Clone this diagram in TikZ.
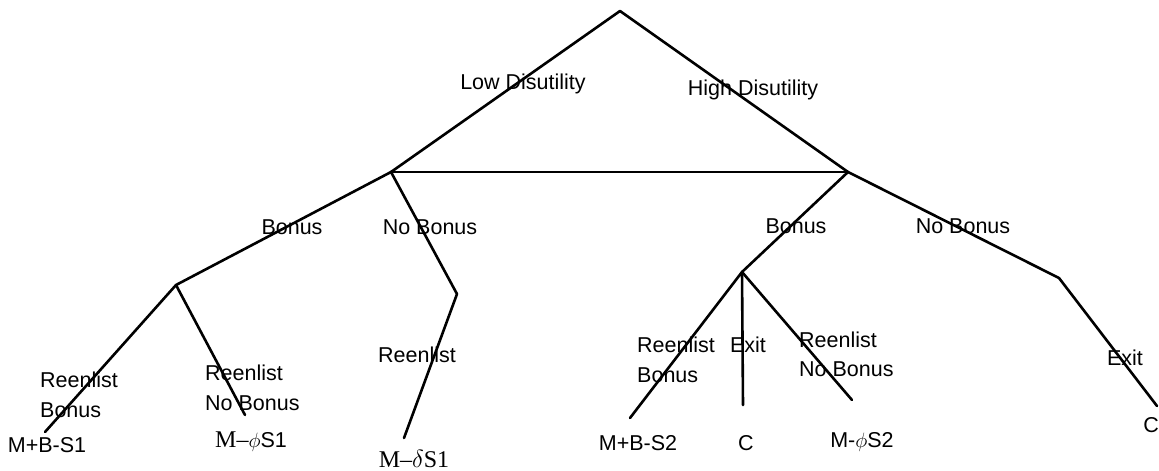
\documentclass[tikz,border=0pt]{standalone}
\usepackage{fontspec}
\setmainfont{Liberation Sans}
\newfontfamily\serifrm{Liberation Serif}
\begin{document}
\begin{tikzpicture}[x=1pt,y=-1pt,
  branch/.style={line width=2.6pt, draw=black, line cap=round, line join=round},
  lbl/.style={inner sep=0pt, font=\fontsize{21.5}{25}\selectfont, text height=15.4pt, text depth=0pt},
  slbl/.style={lbl, font=\fontsize{24}{28}\selectfont}]
\useasboundingbox (0,0) rectangle (1159,471);
\fill[white] (0,0) rectangle (1159,471);
% decision points
\coordinate (root) at (620,11);
\coordinate (low) at (391,172);
\coordinate (high) at (848,172);
\coordinate (b1) at (176,285);
\coordinate (nb1) at (457,294);
\coordinate (b2) at (742,272);
\coordinate (nb2) at (1059,278);
\coordinate (l1) at (45,432);
\coordinate (l2) at (245,415);
\coordinate (l3) at (404,438);
\coordinate (l4) at (630,418);
\coordinate (l5) at (743,405);
\coordinate (l6) at (852,400);
\coordinate (l7) at (1157,406);
% branches
\draw[branch] (root) -- (low);
\draw[branch] (root) -- (high);
\draw[branch] (low) -- (high);
\draw[branch] (low) -- (b1);
\draw[branch] (low) -- (nb1);
\draw[branch] (high) -- (b2);
\draw[branch] (high) -- (nb2);
\draw[branch] (b1) -- (l1);
\draw[branch] (b1) -- (l2);
\draw[branch] (nb1) -- (l3);
\draw[branch] (b2) -- (l4);
\draw[branch] (b2) -- (l5);
\draw[branch] (b2) -- (l6);
\draw[branch] (nb2) -- (l7);
% labels
\node[lbl] (tlow) at (523,82) {Low Disutility};
\node[lbl] (thigh) at (753,88) {High Disutility};
\node[lbl] (tb1) at (292,227) {Bonus};
\node[lbl] (tnb1) at (430,227) {No Bonus};
\node[lbl] (tb2) at (796,226) {Bonus};
\node[lbl] (tnb2) at (963,226) {No Bonus};
\node[lbl,anchor=west] (t1a) at (40,380) {Reenlist};
\node[lbl,anchor=west] (t1b) at (40,410) {Bonus};
\node[lbl,anchor=west] (t2a) at (205,373) {Reenlist};
\node[lbl,anchor=west] (t2b) at (205,403) {No Bonus};
\node[lbl] (t3) at (417,355) {Reenlist};
\node[lbl,anchor=west] (t4a) at (637,345) {Reenlist};
\node[lbl,anchor=west] (t4b) at (637,375) {Bonus};
\node[lbl] (t5) at (748,345) {Exit};
\node[lbl,anchor=west] (t6a) at (799,340) {Reenlist};
\node[lbl,anchor=west] (t6b) at (799,369) {No Bonus};
\node[lbl] (t7) at (1125,358) {Exit};
% payoffs
\node[lbl] (p1) at (47,445) {M+B-S1};
\node[lbl] (p2) at (251,440) {{\fontsize{24}{28}\selectfont\serifrm M–}$\phi$S1};
\node[slbl] (p3) at (414,460) {\serifrm M–$\delta$S1};
\node[lbl] (p4) at (638,443) {M+B-S2};
\node[lbl] (p5) at (746,443) {C};
\node[lbl] (p6) at (862,440) {M-$\phi$S2};
\node[lbl] (p7) at (1151,425) {C};
\end{tikzpicture}
\end{document}
